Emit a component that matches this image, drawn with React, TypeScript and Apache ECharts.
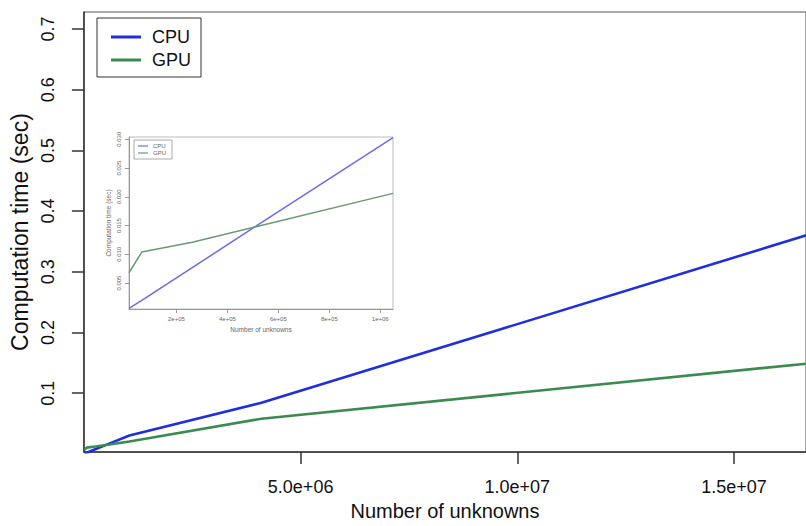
import React, { useEffect, useRef } from "react";
import * as echarts from "echarts";

// Problem sizes (number of unknowns)
const sizes = [13824, 64000, 262144, 512000, 1050000, 4096000, 16777216];
// Computation time (sec)
const cpuTime = [0.0006, 0.002, 0.0077, 0.0149, 0.0303, 0.0843, 0.3625];
const gpuTime = [0.0068, 0.0104, 0.0121, 0.0148, 0.0206, 0.058, 0.1495];
// number of leading points shown in the inset
const insetCount = 5;

const mainXTicks = [5e6, 1e7, 1.5e7];
const mainYTicks = [0.1, 0.2, 0.3, 0.4, 0.5, 0.6, 0.7];
const insetXTicks = [2e5, 4e5, 6e5, 8e5, 1e6];
const insetYTicks = [0.005, 0.01, 0.015, 0.02, 0.025, 0.03];

const seriesNames = ["CPU", "GPU"];

const FONT = "'Liberation Sans', Arial, Helvetica, sans-serif";

function rExp(v: number, digits: number): string {
  const s = v.toExponential(digits);
  const [m, e] = s.split("e");
  const sign = e[0] === "-" ? "-" : "+";
  const ex = e.replace(/^[+-]/, "").padStart(2, "0");
  return `${m}e${sign}${ex}`;
}

export default function App() {
  const ref = useRef<HTMLDivElement>(null);
  useEffect(() => {
    if (!ref.current) return;
    const chart = echarts.init(ref.current, undefined, { renderer: "svg" });
    const mainCpu = sizes.map((x, i) => [x, cpuTime[i]]);
    const mainGpu = sizes.map((x, i) => [x, gpuTime[i]]);
    const insCpu = mainCpu.slice(0, insetCount);
    const insGpu = mainGpu.slice(0, insetCount);

    const axisColor = "#333";
    const insetColor = "#999";
    const insetText = "#666";

    chart.setOption({
      animation: false,
      backgroundColor: "#fff",
      textStyle: { fontFamily: FONT },
      grid: [
        {
          left: 82,
          top: 12,
          right: -4,
          bottom: 70,
          show: true,
          borderColor: "#555",
          borderWidth: 1,
          backgroundColor: "transparent",
        },
        {
          left: 129,
          top: 137,
          width: 264,
          height: 172,
          show: true,
          borderColor: "#bbb",
          borderWidth: 1,
          backgroundColor: "#fff",
        },
      ],
      legend: [
        {
          data: seriesNames.map((n, i) => ({
            name: n,
            icon: "rect",
            itemStyle: { color: i === 0 ? "#1f2ee0" : "#3b8a50" },
          })),
          orient: "vertical",
          left: 97,
          top: 18,
          padding: [10, 10, 8, 14],
          itemWidth: 30,
          itemHeight: 3,
          itemGap: 5,
          borderColor: "#333",
          borderWidth: 1,
          selectedMode: false,
          textStyle: {
            fontSize: 18,
            color: "#111",
            fontFamily: FONT,
            padding: [0, 0, 0, 6],
          },
        },
        {
          data: seriesNames.map((n, i) => ({
            name: n,
            icon: "rect",
            itemStyle: { color: i === 0 ? "#6a6af0" : "#6a9a70" },
          })),
          orient: "vertical",
          left: 134,
          top: 140,
          padding: [3, 6, 3, 4],
          itemWidth: 10,
          itemHeight: 1.2,
          itemGap: 1,
          borderColor: "#aaa",
          borderWidth: 1,
          selectedMode: false,
          textStyle: { fontSize: 6, color: insetText, fontFamily: FONT },
        },
      ],
      xAxis: [
        {
          type: "value",
          gridIndex: 0,
          min: 0,
          max: 1.666e7,
          splitLine: { show: false },
          axisLine: { show: true, lineStyle: { color: axisColor, width: 1.5 } },
          axisTick: {
            show: true,
            length: 12,
            customValues: mainXTicks,
            lineStyle: { color: axisColor, width: 1.5 },
          },
          axisLabel: {
            customValues: mainXTicks,
            formatter: (v: number) => rExp(v, 1),
            fontSize: 18,
            color: "#111",
            margin: 26,
            fontFamily: FONT,
          },
          name: "Number of unknowns",
          nameLocation: "middle",
          nameGap: 48,
          nameTextStyle: { fontSize: 20, color: "#111", fontFamily: FONT },
        },
        {
          type: "value",
          gridIndex: 1,
          min: sizes[0],
          max: sizes[insetCount - 1],
          splitLine: { show: false },
          axisLine: { show: true, lineStyle: { color: insetColor, width: 1 } },
          axisTick: {
            show: true,
            length: 4,
            customValues: insetXTicks,
            lineStyle: { color: insetColor },
          },
          axisLabel: {
            customValues: insetXTicks,
            formatter: (v: number) => rExp(v, 0),
            fontSize: 6,
            color: insetText,
            margin: 7,
            fontFamily: FONT,
          },
          name: "Number of unknowns",
          nameLocation: "middle",
          nameGap: 17,
          nameTextStyle: { fontSize: 6.5, color: insetText, fontFamily: FONT },
        },
      ],
      yAxis: [
        {
          type: "value",
          gridIndex: 0,
          min: 0.003,
          max: 0.728,
          splitLine: { show: false },
          axisLine: { show: true, lineStyle: { color: axisColor, width: 1.5 } },
          axisTick: {
            show: true,
            length: 12,
            customValues: mainYTicks,
            lineStyle: { color: axisColor, width: 1.5 },
          },
          axisLabel: {
            customValues: mainYTicks,
            formatter: (v: number) => v.toFixed(1),
            rotate: 90,
            fontSize: 18,
            color: "#111",
            margin: 27,
            fontFamily: FONT,
          },
          name: "Computation time (sec)",
          nameLocation: "middle",
          nameGap: 49,
          nameTextStyle: { fontSize: 23, color: "#111", fontFamily: FONT },
        },
        {
          type: "value",
          gridIndex: 1,
          min: 0.0005,
          max: 0.0304,
          splitLine: { show: false },
          axisLine: { show: true, lineStyle: { color: insetColor, width: 1 } },
          axisTick: {
            show: true,
            length: 4,
            customValues: insetYTicks,
            lineStyle: { color: insetColor },
          },
          axisLabel: {
            customValues: insetYTicks,
            formatter: (v: number) => v.toFixed(3),
            rotate: 90,
            fontSize: 6,
            color: insetText,
            margin: 7,
            fontFamily: FONT,
          },
          name: "Computation time (sec)",
          nameLocation: "middle",
          nameGap: 17,
          nameTextStyle: { fontSize: 6.5, color: insetText, fontFamily: FONT },
        },
      ],
      series: [
        {
          name: "CPU",
          type: "line",
          xAxisIndex: 0,
          yAxisIndex: 0,
          data: mainCpu,
          symbol: "none",
          clip: true,
          lineStyle: { color: "#1f2ee0", width: 2.6 },
          itemStyle: { color: "#1f2ee0" },
          z: 2,
        },
        {
          name: "GPU",
          type: "line",
          xAxisIndex: 0,
          yAxisIndex: 0,
          data: mainGpu,
          symbol: "none",
          clip: true,
          lineStyle: { color: "#3b8a50", width: 2.6 },
          itemStyle: { color: "#3b8a50" },
          z: 2,
        },
        {
          name: "CPU",
          type: "line",
          xAxisIndex: 1,
          yAxisIndex: 1,
          data: insCpu,
          symbol: "none",
          clip: true,
          lineStyle: { color: "#6a6af0", width: 1.5 },
          itemStyle: { color: "#6a6af0" },
          z: 5,
        },
        {
          name: "GPU",
          type: "line",
          xAxisIndex: 1,
          yAxisIndex: 1,
          data: insGpu,
          symbol: "none",
          clip: true,
          lineStyle: { color: "#6a9a70", width: 1.5 },
          itemStyle: { color: "#6a9a70" },
          z: 5,
        },
      ],
    });
    return () => chart.dispose();
  }, []);

  return (
    <div
      ref={ref}
      style={{ position: "fixed", left: 0, top: 0, width: 806, height: 526 }}
    />
  );
}
